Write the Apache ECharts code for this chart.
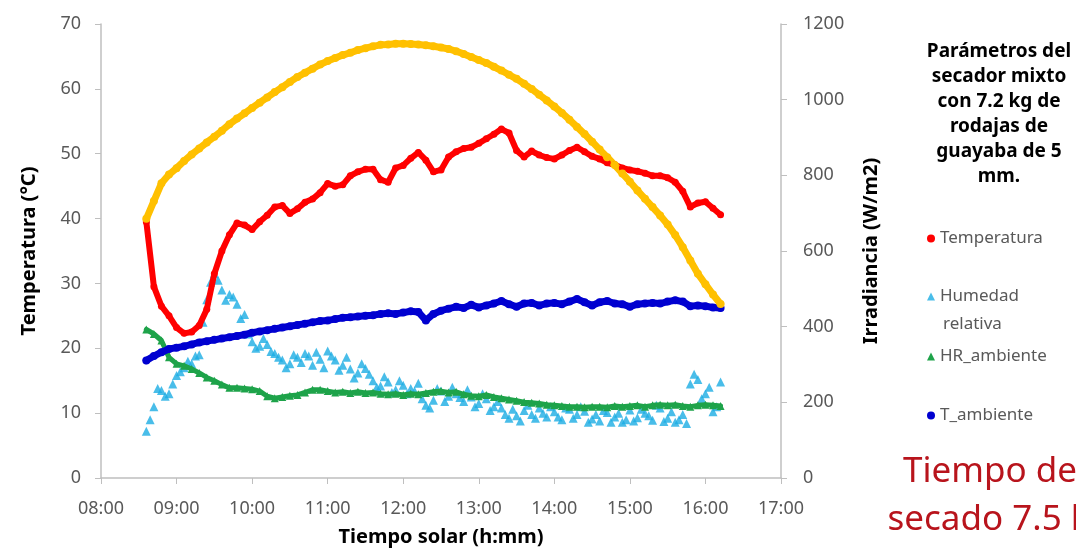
<!DOCTYPE html>
<html>
<head>
<meta charset="utf-8">
<script src="https://cdn.jsdelivr.net/npm/echarts@6/dist/echarts.min.js"></script>
<style>
  html, body { margin: 0; padding: 0; background: #fff; }
  #chart { width: 1076px; height: 548px; }
</style>
</head>
<body>
<div id="chart"></div>
<script>
// horas de medición (cada 6 min)
var horas = ['08:36','08:42','08:48','08:54',
  '09:00','09:06','09:12','09:18','09:24','09:30','09:36','09:42','09:48','09:54',
  '10:00','10:06','10:12','10:18','10:24','10:30','10:36','10:42','10:48','10:54',
  '11:00','11:06','11:12','11:18','11:24','11:30','11:36','11:42','11:48','11:54',
  '12:00','12:06','12:12','12:18','12:24','12:30','12:36','12:42','12:48','12:54',
  '13:00','13:06','13:12','13:18','13:24','13:30','13:36','13:42','13:48','13:54',
  '14:00','14:06','14:12','14:18','14:24','14:30','14:36','14:42','14:48','14:54',
  '15:00','15:06','15:12','15:18','15:24','15:30','15:36','15:42','15:48','15:54',
  '16:00','16:06','16:12'];

// lecturas intermedias de humedad del secador
var horasIntermedias = ['08:39','08:45','08:51','08:57',
  '09:03','09:09','09:15','09:21','09:27','09:33','09:39','09:45','09:51','09:57',
  '10:03','10:09','10:15','10:21','10:27','10:33','10:39','10:45','10:51','10:57',
  '11:03','11:09','11:15','11:21','11:27','11:33','11:39','11:45','11:51','11:57',
  '12:03','12:09','12:15','12:21','12:27','12:33','12:39','12:45','12:51','12:57',
  '13:03','13:09','13:15','13:21','13:27','13:33','13:39','13:45','13:51','13:57',
  '14:03','14:09','14:15','14:21','14:27','14:33','14:39','14:45','14:51','14:57',
  '15:03','15:09','15:15','15:21','15:27','15:33','15:39','15:45','15:51','15:57',
  '16:03','16:09'];

// Temperatura del secador (°C)
var temperatura = [39.5, 29.5, 26.5, 25.0,
  23.2, 22.3, 22.5, 23.5, 26.0, 31.5, 35.0, 37.5, 39.3, 39.0,
  38.3, 39.5, 40.5, 41.8, 42.0, 40.8, 41.5, 42.5, 43.0, 44.0,
  45.4, 45.0, 45.2, 46.6, 47.2, 47.6, 47.6, 46.0, 45.6, 47.8,
  48.2, 49.3, 50.2, 49.0, 47.2, 47.5, 49.5, 50.3, 50.8, 51.0,
  51.6, 52.3, 53.0, 53.8, 53.2, 50.5, 49.5, 50.4, 49.8, 49.4,
  49.2, 49.8, 50.5, 51.0, 50.3, 49.6, 49.2, 48.6, 48.3, 47.8,
  47.5, 47.3, 47.0, 46.6, 46.6, 46.3, 45.6, 44.2, 41.8, 42.4,
  42.6, 41.6, 40.6];

// Humedad relativa del secador (%)
var humedad = [7.2, 11.0, 13.5, 13.0,
  15.8, 17.0, 17.6, 19.0, 27.5, 31.5, 29.0, 28.3, 26.8, 25.2,
  21.0, 20.3, 20.6, 19.2, 18.2, 17.6, 18.6, 19.2, 17.4, 18.3,
  19.6, 18.2, 17.4, 16.8, 16.2, 16.9, 15.0, 14.2, 14.8, 13.6,
  14.3, 13.8, 14.6, 11.2, 12.0, 13.4, 12.6, 13.0, 11.8, 12.5,
  11.5, 12.2, 11.0, 10.8, 9.2, 9.6, 10.4, 9.8, 10.8, 9.4,
  10.2, 9.0, 10.6, 9.8, 10.3, 9.1, 8.8, 10.1, 9.4, 8.6,
  10.5, 9.3, 10.0, 8.9, 10.8, 9.2, 8.6, 9.8, 14.5, 15.2,
  13.0, 10.2, 14.8];

var humedadIntermedia = [9.0, 13.8, 12.6, 14.5,
  16.4, 18.0, 18.8, 24.0, 30.2, 30.5, 27.4, 27.9, 24.6, 22.2,
  20.0, 21.5, 19.5, 18.6, 17.0, 19.0, 17.8, 18.8, 19.4, 17.0,
  18.8, 16.6, 18.6, 15.4, 17.6, 16.0, 14.0, 15.6, 13.2, 15.0,
  13.0, 13.4, 12.2, 10.8, 13.8, 11.8, 14.0, 12.4, 13.6, 11.0,
  13.0, 10.4, 11.8, 9.8, 10.6, 8.8, 11.2, 9.2, 10.0, 11.0,
  9.4, 10.8, 9.2, 11.0, 8.6, 9.8, 10.4, 8.6, 10.0, 9.0,
  8.8, 10.6, 9.6, 11.2, 8.7, 10.2, 9.0, 8.4, 16.0, 12.2,
  14.0, 11.0];

// Humedad relativa ambiente (%)
var hrAmbiente = [22.9, 22.2, 21.2, 18.6,
  17.6, 17.3, 16.8, 16.2, 15.5, 15.0, 14.4, 13.9, 13.9, 13.8,
  13.7, 13.4, 12.6, 12.3, 12.5, 12.7, 12.8, 13.2, 13.6, 13.6,
  13.4, 13.2, 13.3, 13.1, 13.3, 13.1, 13.2, 13.0, 12.9, 13.0,
  12.8, 13.0, 12.9, 13.1, 13.3, 13.4, 13.2, 13.3, 12.9, 12.7,
  12.6, 12.8, 12.5, 12.3, 12.1, 11.9, 11.7, 11.6, 11.5, 11.3,
  11.2, 11.1, 11.0, 11.0, 10.9, 11.0, 11.0, 10.9, 11.1, 11.0,
  11.1, 11.2, 11.0, 11.2, 11.3, 11.2, 11.3, 11.1, 11.0, 11.2,
  11.3, 11.2, 11.1];

// Temperatura ambiente (°C)
var tAmbiente = [18.1, 18.8, 19.4, 19.9,
  20.1, 20.3, 20.6, 20.9, 21.1, 21.3, 21.5, 21.7, 21.9, 22.1,
  22.4, 22.6, 22.8, 23.0, 23.2, 23.4, 23.6, 23.8, 24.0, 24.2,
  24.3, 24.5, 24.7, 24.8, 24.9, 25.0, 25.1, 25.3, 25.4, 25.3,
  25.5, 25.7, 25.6, 24.3, 25.3, 25.8, 26.1, 26.4, 26.2, 26.7,
  26.3, 26.6, 26.9, 27.3, 26.8, 26.4, 26.9, 27.0, 26.6, 26.9,
  27.0, 26.8, 27.2, 27.6, 27.1, 26.6, 27.1, 27.3, 26.9, 26.8,
  26.4, 26.8, 26.9, 27.0, 26.9, 27.2, 27.4, 27.2, 26.5, 26.6,
  26.5, 26.3, 26.2];

// Irradiancia (W/m2)
var irradiancia = [685, 732, 779, 802,
  819, 838, 855, 871, 887, 902, 918, 935, 950, 964,
  978, 992, 1006, 1020, 1033, 1047, 1060, 1071, 1082, 1093,
  1102, 1110, 1118, 1124, 1131, 1136, 1141, 1145, 1146, 1148,
  1148, 1147, 1146, 1144, 1141, 1138, 1134, 1128, 1121, 1113,
  1105, 1097, 1087, 1077, 1066, 1055, 1042, 1028, 1013, 998,
  982, 965, 947, 928, 909, 889, 868, 848, 827, 805,
  783, 760, 738, 716, 694, 670, 642, 610, 575, 540,
  512, 485, 460];

var fuente = '"Noto Sans", sans-serif';
var gris = '#595959';

function aHoras(s) {
  var p = s.split(':');
  return Number(p[0]) + Number(p[1]) / 60;
}
function pares(tiempos, valores) {
  return tiempos.map(function (h, i) { return [aHoras(h), valores[i]]; });
}
function hhmm(v) {
  var h = Math.floor(v);
  var m = Math.round((v - h) * 60);
  return (h < 10 ? '0' : '') + h + ':' + (m < 10 ? '0' : '') + m;
}

var chart = echarts.init(document.getElementById('chart'));

function leyenda(nombre, icono, top, texto) {
  return {
    data: [nombre],
    orient: 'vertical',
    left: 927,
    top: top,
    padding: 0,
    icon: icono,
    itemWidth: 8,
    itemHeight: 8,
    itemGap: 4,
    selectedMode: false,
    formatter: texto ? function () { return texto; } : undefined,
    textStyle: { fontFamily: fuente, fontSize: 17, color: gris }
  };
}

var ejeComun = {
  axisLine: { show: true, lineStyle: { color: '#BFBFBF', width: 1.5 } },
  axisTick: { show: true, inside: false, length: 6, lineStyle: { color: '#BFBFBF' } },
  splitLine: { show: false },
  axisLabel: { fontFamily: fuente, fontSize: 18, color: gris, margin: 20 },
  nameTextStyle: { fontFamily: fuente, fontSize: 20, fontWeight: 'bold', color: '#000' }
};

var option = {
  animation: false,
  backgroundColor: '#fff',
  grid: { left: 101, right: 295, top: 24, bottom: 70, containLabel: false, outerBoundsMode: 'none' },
  legend: [
    leyenda('Temperatura', 'circle', 230),
    leyenda('Humedad relativa', 'triangle', 288, 'Humedad'),
    leyenda('HR_ambiente', 'triangle', 348),
    leyenda('T_ambiente', 'circle', 407)
  ],
  graphic: [
    {
      type: 'text', left: 943, top: 316,
      style: { text: 'relativa', fontFamily: fuente, fontSize: 17, fill: gris }
    },
    {
      type: 'text', x: 999, y: 39,
      style: {
        text: 'Parámetros del\nsecador mixto\ncon 7.2 kg de\nrodajas de\nguayaba de 5\nmm.',
        fontFamily: fuente, fontSize: 19, fontWeight: 'bold', fill: '#000',
        align: 'center', verticalAlign: 'top', lineHeight: 25
      }
    },
    {
      type: 'text', x: 990, y: 448,
      style: {
        text: 'Tiempo de\nsecado 7.5 h',
        fontFamily: fuente, fontSize: 35, fill: '#B8141C',
        align: 'center', verticalAlign: 'top', lineHeight: 48
      }
    }
  ],
  xAxis: Object.assign({}, ejeComun, {
    type: 'value',
    min: 8, max: 17, interval: 1,
    name: 'Tiempo solar (h:mm)',
    nameLocation: 'middle',
    nameGap: 49,
    axisLabel: Object.assign({}, ejeComun.axisLabel, { margin: 22, formatter: hhmm })
  }),
  yAxis: [
    Object.assign({}, ejeComun, {
      type: 'value', min: 0, max: 70, interval: 10,
      name: 'Temperatura (°C)', nameLocation: 'middle', nameGap: 62
    }),
    Object.assign({}, ejeComun, {
      type: 'value', min: 0, max: 1200, interval: 200, position: 'right',
      name: 'Irradiancia (W/m2)', nameLocation: 'middle', nameGap: 80,
      axisLabel: Object.assign({}, ejeComun.axisLabel, {
        margin: 22,
        formatter: function (v) { return String(v); }
      })
    })
  ],
  series: [
    {
      name: 'Temperatura', type: 'line', data: pares(horas, temperatura),
      symbol: 'circle', symbolSize: 7, showSymbol: true,
      itemStyle: { color: '#FF0000' },
      lineStyle: { width: 6, color: '#FF0000', cap: 'round', join: 'round' }
    },
    {
      name: 'Humedad relativa', type: 'scatter',
      data: pares(horas, humedad).concat(pares(horasIntermedias, humedadIntermedia)),
      symbol: 'triangle', symbolSize: 9,
      itemStyle: { color: '#1CADE4' }
    },
    {
      name: 'HR_ambiente', type: 'line', data: pares(horas, hrAmbiente),
      symbol: 'triangle', symbolSize: 8, showSymbol: true,
      itemStyle: { color: '#1EA34A' },
      lineStyle: { width: 5, color: '#1EA34A', cap: 'round', join: 'round' }
    },
    {
      name: 'T_ambiente', type: 'line', data: pares(horas, tAmbiente),
      symbol: 'circle', symbolSize: 8, showSymbol: true,
      itemStyle: { color: '#0000D0' },
      lineStyle: { width: 7, color: '#0000D0', cap: 'round', join: 'round' }
    },
    {
      name: 'Irradiancia', type: 'line', yAxisIndex: 1, data: pares(horas, irradiancia),
      symbol: 'circle', symbolSize: 8, showSymbol: true,
      itemStyle: { color: '#FFC000' },
      lineStyle: { width: 7, color: '#FFC000', cap: 'round', join: 'round' }
    }
  ]
};

chart.setOption(option);
</script>
</body>
</html>
